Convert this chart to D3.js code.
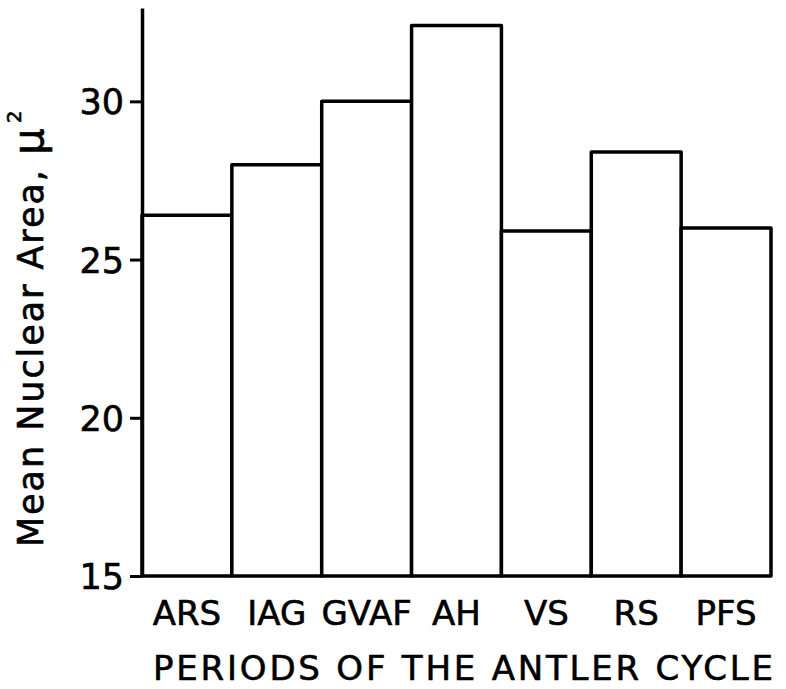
<!DOCTYPE html>
<html>
<head>
<meta charset="utf-8">
<script src="https://cdn.jsdelivr.net/npm/d3@7"></script>
<style>
  body { margin: 0; background: #fff; }
  text { font-family: "DejaVu Sans", "Liberation Sans", sans-serif; fill: #000; stroke: #000; stroke-width: 0.6px; }
</style>
</head>
<body>
<svg id="chart" width="786" height="689"></svg>
<script>
// periods of the antler cycle and mean nuclear area (square microns)
var periods = ["ARS", "IAG", "GVAF", "AH", "VS", "RS", "PFS"];
var meanArea = [26.4, 28.0, 30.0, 32.4, 25.9, 28.4, 26.0];
var yTicks = [15, 20, 25, 30];

var data = periods.map(function(p, i) { return { period: p, value: meanArea[i] }; });

var svg = d3.select("#chart");

var x = d3.scaleBand().domain(periods).range([142, 771]).padding(0);
var y = d3.scaleLinear().domain([15, 32.95]).range([576, 8]);

// bars
svg.append("g")
    .selectAll("rect")
    .data(data)
    .enter()
    .append("rect")
    .attr("x", function(d) { return x(d.period); })
    .attr("y", function(d) { return y(d.value); })
    .attr("width", x.bandwidth())
    .attr("height", function(d) { return y(15) - y(d.value); })
    .attr("fill", "#fff")
    .attr("stroke", "#000")
    .attr("stroke-width", 3.5)
    .attr("stroke-linejoin", "round");

// y axis
var yAxis = svg.append("g")
    .attr("transform", "translate(142,0)")
    .call(d3.axisLeft(y).tickValues(yTicks).tickSize(12).tickSizeOuter(0).tickPadding(6));
yAxis.select(".domain").attr("stroke-width", 3.5);
yAxis.selectAll(".tick line").attr("stroke-width", 3);
yAxis.selectAll(".tick text")
    .attr("font-size", 35)
    .attr("font-family", "DejaVu Sans, sans-serif")
    .attr("dy", "0.36em");

// category labels
svg.append("g")
    .selectAll("text")
    .data(periods)
    .enter()
    .append("text")
    .attr("x", function(d) { return x(d) + x.bandwidth() / 2; })
    .attr("y", 625)
    .attr("text-anchor", "middle")
    .attr("font-size", 34)
    .text(function(d) { return d; });

// x title
svg.append("text")
    .attr("x", 153)
    .attr("y", 680)
    .attr("font-size", 34)
    .attr("textLength", 620)
    .attr("lengthAdjust", "spacing")
    .text("PERIODS OF THE ANTLER CYCLE");

// y title
var yt = svg.append("text")
    .attr("transform", "translate(43,547) rotate(-90)")
    .attr("font-size", 35);
yt.append("tspan").attr("textLength", 390).attr("lengthAdjust", "spacing")
    .text("Mean Nuclear Area, ");
yt.append("tspan").attr("font-size", 42).text("\u03bc");
yt.append("tspan").attr("font-size", 20).attr("dx", 5).attr("dy", -22).text("2");
</script>
</body>
</html>
